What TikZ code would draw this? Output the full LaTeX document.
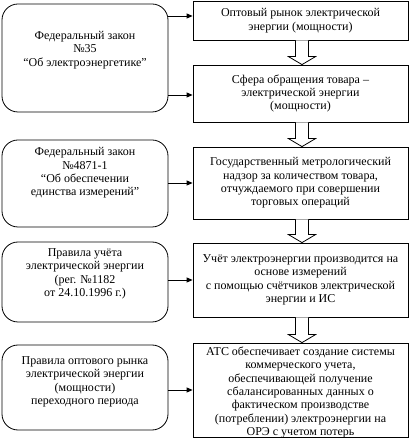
\documentclass[tikz,border=0pt]{standalone}
\usepackage{fontspec}
\setmainfont{Liberation Serif}
\newfontfamily\tnr{Liberation Serif}
\usetikzlibrary{arrows.meta,calc}
\begin{document}
\begin{tikzpicture}[x=1pt,y=1pt,
 rbox/.style={draw,line width=0.8pt,minimum width=215pt,inner sep=0pt,align=center,font=\tnr\fontsize{12}{13.4}\selectfont},
 lbox/.style={draw,line width=0.8pt,rounded corners=16pt,minimum width=166pt,inner sep=0pt},
 txt/.style={align=center,font=\tnr\fontsize{12}{13.4}\selectfont,inner sep=0pt},
 link/.style={line width=0.8pt,-{Triangle[length=6pt,width=5pt]}},
 barrow/.style={draw,line width=0.8pt,fill=white}]
\useasboundingbox (0,0) rectangle (410,442);

% right boxes
\node[rbox,minimum height=39pt] (r1) at (300.5,421.5) {Оптовый рынок электрической\\энергии (мощности)};
\node[rbox,minimum height=57pt] (r2) at (300.5,348.5) {Сфера обращения товара –\\электрической энергии\\(мощности)};
\node[rbox,minimum height=72pt] (r3) at (300.5,259) {Государственный метрологический\\надзор за количеством товара,\\отчуждаемого при совершении\\торговых операций};
\node[rbox,minimum height=74pt] (r4) at (300.5,162) {Учёт электроэнергии производится на\\основе измерений\\с помощью счётчиков электрической\\энергии и ИС};
\node[rbox,minimum height=94pt] (r5) at (300.5,52) {};
\node[txt,anchor=north] (r5t) at ($(r5.north)+(0,-4)$) {АТС обеспечивает создание системы\\коммерческого учета,\\обеспечивающей получение\\сбалансированных данных о\\фактическом производстве\\(потреблении) электроэнергии на\\ОРЭ с учетом потерь};

% left boxes
\node[lbox,minimum height=108pt] (l1) at (85,384) {};
\node[txt] (l1t) at (85,392) {Федеральный закон\\№35\\“Об электроэнергетике”};
\node[lbox,minimum height=87pt] (l2) at (85,258.5) {};
\node[txt] (l2t) at (85,269) {Федеральный закон\\№4871-1\\“Об обеспечении\\единства измерений”};
\node[lbox,minimum height=80pt] (l3) at (85,160) {};
\node[txt] (l3t) at (85,168) {Правила учёта\\электрической энергии\\(рег. №1182\\от 24.10.1996 г.)};
\node[lbox,minimum height=85pt] (l4) at (85,54.5) {};
\node[txt] (l4t) at (85,60) {Правила оптового рынка\\электрической энергии\\(мощности)\\переходного периода};

% horizontal links
\coordinate (a1) at ($(r1.west)+(0,4.5)$);
\coordinate (a2) at ($(r2.west)+(0,-1.5)$);
\draw[link] (l1.east |- a1) -- (a1);
\draw[link] (l1.east |- a2) -- (a2);
\draw[link] (l2.east |- r3.west) -- (r3.west);
\draw[link] (l3.east |- r4.west) -- (r4.west);
\draw[link] (l4.east |- r5.west) -- (r5.west);

% block arrows
\foreach \a/\b in {r1/r2,r2/r3,r3/r4,r4/r5}{
 \draw[barrow] ($(\a.south)+(-5,0)$) -- ($(\b.north)+(-5,8)$) -- ($(\b.north)+(-12,8)$) -- ($(\b.north)+(1.5,0)$) -- ($(\b.north)+(15,8)$) -- ($(\b.north)+(8,8)$) -- ($(\a.south)+(8,0)$);
}
\end{tikzpicture}
\end{document}
